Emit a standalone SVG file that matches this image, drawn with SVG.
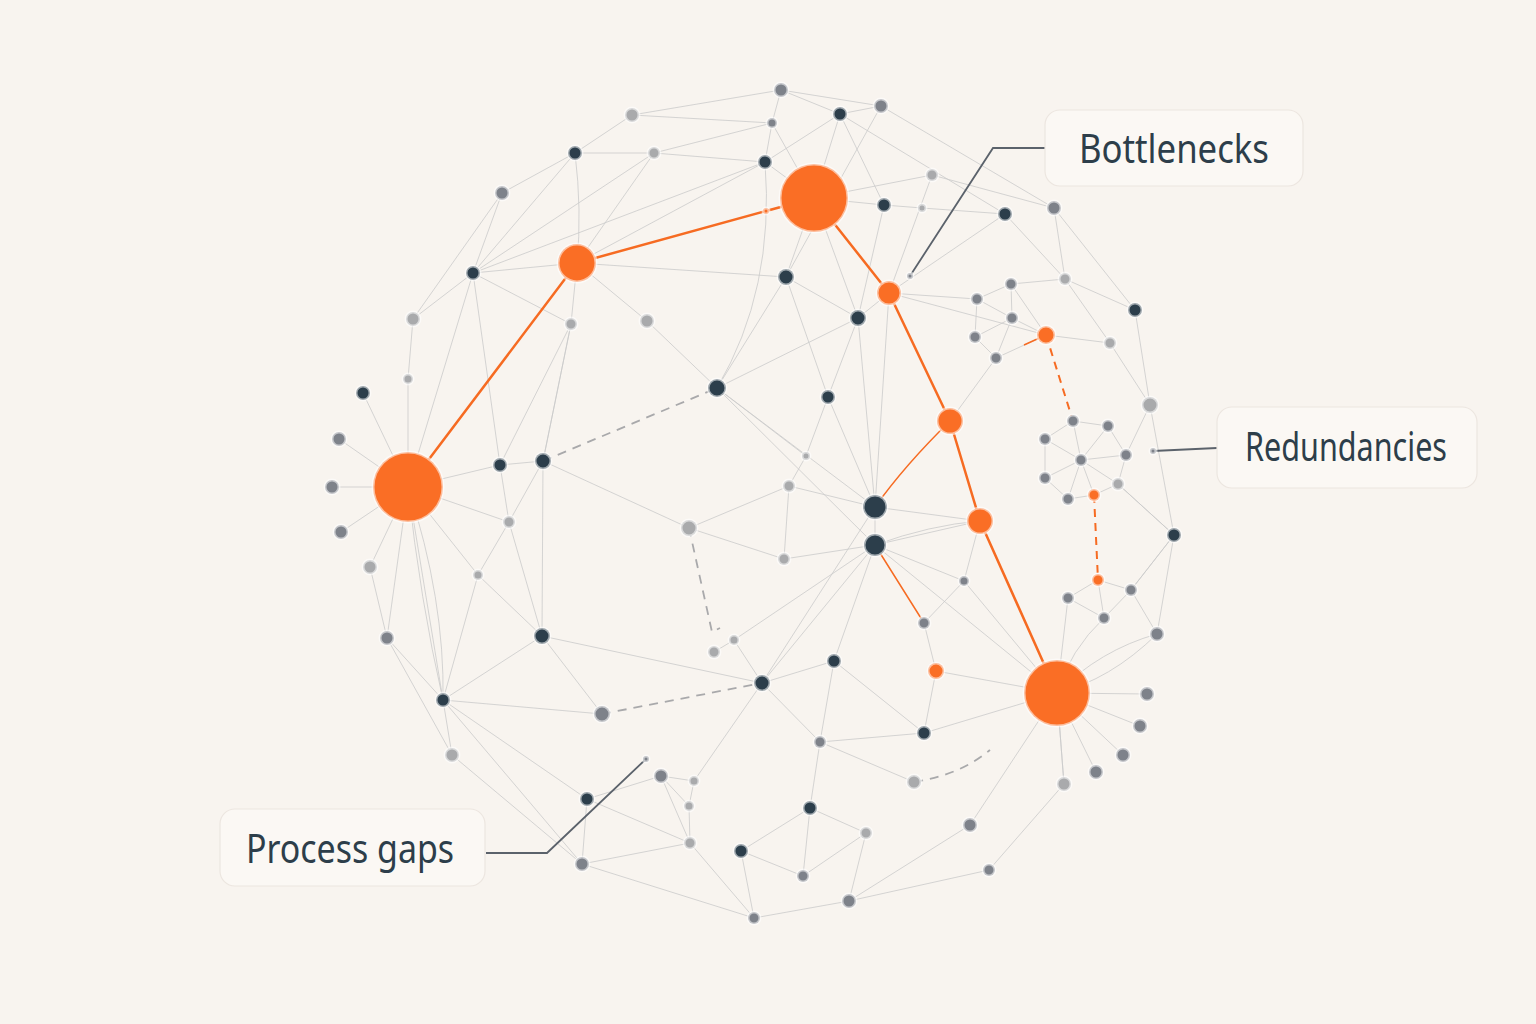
<svg xmlns="http://www.w3.org/2000/svg" width="1536" height="1024" viewBox="0 0 1536 1024">
<style>
.e{stroke:#cbcbcb;stroke-width:1;fill:none;opacity:0.8}
.o{stroke:#f66b22;stroke-width:2.5;fill:none;stroke-linecap:round}
.ot{stroke:#f66b22;stroke-width:1.5;fill:none}
.od{stroke:#f66b22;stroke-width:2;fill:none;stroke-dasharray:8 6}
.gd{stroke:#a9a9ab;stroke-width:1.8;fill:none;stroke-dasharray:9 7}
.p{stroke:#5b626b;stroke-width:1.8;fill:none}
.or{fill:#fa6e25}
.dk{fill:#2c3e4b}
.md{fill:#7e828a}
.lt{fill:#a9aaac}
.n circle{stroke:#ffffff;stroke-opacity:0.55;stroke-width:3}
.box{fill:#fbf8f4;stroke:#ece6e0;stroke-width:1.2}
.lbl{font-family:"Noto Sans","Open Sans",sans-serif;font-size:40px;fill:#2d3e4a}
</style>
<rect width="1536" height="1024" fill="#f8f4ef"/>
<g id="connectors">
<path class="e" d="M781 90L632 115M781 90L881 106M781 90L772 123M781 90L840 114M632 115L575 153M632 115L772 123M654 153L575 153M654 153L772 123M654 153L765 162M654 153L473 273M654 153L577 263M575 153L502 193M575 153Q582 210 577 263M575 153L473 273M502 193L473 273M502 193L413 319M473 273L577 263M473 273L413 319M473 273L571 324M473 273L500 465M473 273L765 162M473 273L408 487M413 319L408 379M408 379L408 487M577 263L786 277M577 263L647 321M647 321L717 388M577 263L571 324M577 263L765 162M571 324L500 465M571 324L543 461M765 162L840 114M765 162L814 198M772 123L765 162M772 123L814 198M765 162Q775 290 717 388M840 114L881 106M840 114L814 198M840 114L884 205M840 114L1005 214M881 106L1054 208M881 106L786 277M814 198L884 205M814 198L932 175M884 205L922 208M922 208L1005 214M932 175L889 293M932 175L1054 208M884 205L858 318M814 198L786 277M814 198L858 318M786 277L858 318M786 277L717 388M786 277L828 397M858 318L717 388M858 318L828 397M858 318L889 293M889 293L977 299M1005 214L889 293M1005 214L1065 279M1054 208L1065 279M1054 208L1135 310M1011 284L1065 279M1065 279L1110 343M1065 279L1135 310M1046 335L1110 343M1110 343L1150 405M1135 310L1150 405M1150 405L1174 535M1150 405L1126 455M1174 535L1118 484M1174 535L1131 590M1174 535L1157 634"/>
<path class="e" d="M977 299L1011 284M1011 284L1012 318M977 299L975 337M977 299L1012 318M975 337L996 358M975 337L1012 318M1012 318L1046 335M1012 318L996 358M1011 284L1046 335M996 358L950 421M889 293L1046 335M996 358L1046 335"/>
<path class="e" d="M1045 439L1073 421M1073 421L1108 426M1108 426L1126 455M1126 455L1118 484M1118 484L1094 495M1094 495L1068 499M1068 499L1045 478M1045 478L1045 439M1081 460L1073 421M1081 460L1108 426M1081 460L1126 455M1081 460L1118 484M1081 460L1094 495M1081 460L1068 499M1081 460L1045 478M1081 460L1045 439M1118 484L1174 535"/>
<path class="e" d="M1098 580L1068 598M1098 580L1131 590M1098 580L1104 618M1068 598L1104 618M1131 590L1104 618M1131 590L1157 634M1068 598L1057 693M1104 618Q1070 650 1057 693M1157 634Q1100 650 1057 693M1157 634Q1110 680 1057 693M1131 590L1174 535"/>
<path class="e" d="M1057 693L1147 694M1057 693L1140 726M1057 693L1123 755M1057 693L1096 772M1057 693L1064 784M1057 693L964 581M1057 693L936 671M1057 693L924 733M1057 693L970 825M1064 784L989 870M970 825L849 901M989 870L849 901M1057 693L875 545"/>
<path class="e" d="M717 388L875 507M717 388L806 456M717 388L875 545M828 397L806 456M828 397L875 507M858 318L875 507M889 293L875 507M806 456L789 486M789 486L689 528M789 486L784 559M689 528L784 559M543 461L689 528M543 461L500 465M500 465L408 487M543 461L509 522M543 461L542 636M509 522L408 487M509 522L478 575M509 522L542 636M478 575L408 487M478 575L542 636M478 575L443 700M543 461L571 324M500 465L509 522M875 507L875 545M875 507L980 521M875 545L980 521M875 545Q930 525 980 521M875 545L784 559M875 545L762 683M875 545L834 661M875 545L964 581M875 507L789 486M875 545L734 640M734 640L714 652M734 640L762 683M542 636L762 683M542 636L443 700M542 636L602 714M443 700L602 714M443 700Q420 600 408 487M443 700L408 487M443 700Q445 600 408 487M443 700L387 638M443 700L452 755M443 700L587 799M443 700L582 864M387 638L370 567M387 638L452 755M370 567L408 487M339 439L408 487M332 487L408 487M341 532L408 487M363 393L408 487M387 638L408 487M452 755L582 864"/>
<path class="e" d="M762 683L834 661M762 683L820 742M762 683L694 781M834 661L924 733M834 661L820 742M820 742L924 733M820 742L810 808M820 742L914 782M936 671L924 623M936 671L924 733M964 581L980 521M924 623L964 581M810 808L741 851M810 808L866 833M810 808L803 876M741 851L803 876M741 851L754 918M866 833L803 876M866 833L849 901M849 901L754 918M754 918L690 843M754 918L582 864M690 843L582 864M690 843L689 806M690 843L661 776M661 776L694 781M661 776L689 806M661 776L587 799M689 806L694 781M587 799L690 843M587 799L582 864M1064 784L1057 693M762 683L875 507"/>
<path class="o" d="M408 487L577 263M577 263L766 211L814 198M814 198L889 293M889 293L950 421M950 421L980 521M980 521L1057 693"/>
<path class="ot" d="M950 421Q905 465 875 507M875 545L924 623M1046 335L1024 345"/>
<path class="od" d="M1046 335L1073 421M1094 495L1098 580"/>
<path class="gd" d="M543 461L717 388M689 528L712 632L720 628M602 714L762 683M914 782Q960 775 990 750"/>
<path class="p" d="M910 276L993 148L1045 148M1153 451L1217 448M646 759L547 853L486 853"/>
</g>
<g id="nodes" class="n">
<g id="orange-nodes">
<circle class="or" cx="408" cy="487" r="35"/>
<circle class="or" cx="814" cy="198" r="34"/>
<circle class="or" cx="577" cy="263" r="19"/>
<circle class="or" cx="889" cy="293" r="12"/>
<circle class="or" cx="950" cy="421" r="13"/>
<circle class="or" cx="980" cy="521" r="13"/>
<circle class="or" cx="1057" cy="693" r="33"/>
<circle class="or" cx="936" cy="671" r="8"/>
<circle class="or" cx="1046" cy="335" r="9"/>
<circle class="or" cx="1094" cy="495" r="6"/>
<circle class="or" cx="1098" cy="580" r="6"/>
<circle class="or" cx="766" cy="211" r="3"/>
</g>
<g id="dark-nodes">
<circle class="dk" cx="840" cy="114" r="7"/>
<circle class="dk" cx="575" cy="153" r="7"/>
<circle class="dk" cx="765" cy="162" r="7"/>
<circle class="dk" cx="884" cy="205" r="7"/>
<circle class="dk" cx="1005" cy="214" r="7"/>
<circle class="dk" cx="473" cy="273" r="7"/>
<circle class="dk" cx="786" cy="277" r="8"/>
<circle class="dk" cx="858" cy="318" r="8"/>
<circle class="dk" cx="1135" cy="310" r="7"/>
<circle class="dk" cx="717" cy="388" r="9"/>
<circle class="dk" cx="828" cy="397" r="7"/>
<circle class="dk" cx="363" cy="393" r="7"/>
<circle class="dk" cx="500" cy="465" r="7"/>
<circle class="dk" cx="543" cy="461" r="8"/>
<circle class="dk" cx="875" cy="507" r="12"/>
<circle class="dk" cx="875" cy="545" r="11"/>
<circle class="dk" cx="1174" cy="535" r="7"/>
<circle class="dk" cx="542" cy="636" r="8"/>
<circle class="dk" cx="834" cy="661" r="7"/>
<circle class="dk" cx="762" cy="683" r="8"/>
<circle class="dk" cx="443" cy="700" r="7"/>
<circle class="dk" cx="924" cy="733" r="7"/>
<circle class="dk" cx="587" cy="799" r="7"/>
<circle class="dk" cx="810" cy="808" r="7"/>
<circle class="dk" cx="741" cy="851" r="7"/>
</g>
<g id="mid-nodes">
<circle class="md" cx="781" cy="90" r="7"/>
<circle class="md" cx="881" cy="106" r="7"/>
<circle class="md" cx="772" cy="123" r="5"/>
<circle class="md" cx="502" cy="193" r="7"/>
<circle class="md" cx="1054" cy="208" r="7"/>
<circle class="md" cx="1011" cy="284" r="6"/>
<circle class="md" cx="977" cy="299" r="6"/>
<circle class="md" cx="1012" cy="318" r="6"/>
<circle class="md" cx="975" cy="337" r="6"/>
<circle class="md" cx="996" cy="358" r="6"/>
<circle class="md" cx="1073" cy="421" r="6"/>
<circle class="md" cx="1108" cy="426" r="6"/>
<circle class="md" cx="1045" cy="439" r="6"/>
<circle class="md" cx="1081" cy="460" r="6"/>
<circle class="md" cx="1126" cy="455" r="6"/>
<circle class="md" cx="1045" cy="478" r="6"/>
<circle class="md" cx="1068" cy="499" r="6"/>
<circle class="md" cx="339" cy="439" r="7"/>
<circle class="md" cx="332" cy="487" r="7"/>
<circle class="md" cx="341" cy="532" r="7"/>
<circle class="md" cx="387" cy="638" r="7"/>
<circle class="md" cx="1068" cy="598" r="6"/>
<circle class="md" cx="1131" cy="590" r="6"/>
<circle class="md" cx="1104" cy="618" r="6"/>
<circle class="md" cx="1157" cy="634" r="7"/>
<circle class="md" cx="1147" cy="694" r="7"/>
<circle class="md" cx="1140" cy="726" r="7"/>
<circle class="md" cx="1123" cy="755" r="7"/>
<circle class="md" cx="1096" cy="772" r="7"/>
<circle class="md" cx="964" cy="581" r="5"/>
<circle class="md" cx="924" cy="623" r="6"/>
<circle class="md" cx="820" cy="742" r="6"/>
<circle class="md" cx="602" cy="714" r="8"/>
<circle class="md" cx="661" cy="776" r="7"/>
<circle class="md" cx="970" cy="825" r="7"/>
<circle class="md" cx="989" cy="870" r="6"/>
<circle class="md" cx="582" cy="864" r="7"/>
<circle class="md" cx="803" cy="876" r="6"/>
<circle class="md" cx="849" cy="901" r="7"/>
<circle class="md" cx="754" cy="918" r="6"/>
<circle class="md" cx="910" cy="276" r="3"/>
<circle class="md" cx="1153" cy="451" r="3"/>
<circle class="md" cx="646" cy="759" r="3"/>
</g>
<g id="light-nodes">
<circle class="lt" cx="632" cy="115" r="7"/>
<circle class="lt" cx="654" cy="153" r="6"/>
<circle class="lt" cx="922" cy="208" r="4"/>
<circle class="lt" cx="932" cy="175" r="6"/>
<circle class="lt" cx="1065" cy="279" r="6"/>
<circle class="lt" cx="413" cy="319" r="7"/>
<circle class="lt" cx="571" cy="324" r="6"/>
<circle class="lt" cx="647" cy="321" r="7"/>
<circle class="lt" cx="1110" cy="343" r="6"/>
<circle class="lt" cx="408" cy="379" r="5"/>
<circle class="lt" cx="1150" cy="405" r="8"/>
<circle class="lt" cx="806" cy="456" r="4"/>
<circle class="lt" cx="789" cy="486" r="6"/>
<circle class="lt" cx="509" cy="522" r="6"/>
<circle class="lt" cx="689" cy="528" r="8"/>
<circle class="lt" cx="1118" cy="484" r="6"/>
<circle class="lt" cx="784" cy="559" r="6"/>
<circle class="lt" cx="370" cy="567" r="7"/>
<circle class="lt" cx="478" cy="575" r="5"/>
<circle class="lt" cx="734" cy="640" r="5"/>
<circle class="lt" cx="714" cy="652" r="6"/>
<circle class="lt" cx="452" cy="755" r="7"/>
<circle class="lt" cx="694" cy="781" r="5"/>
<circle class="lt" cx="689" cy="806" r="5"/>
<circle class="lt" cx="690" cy="843" r="6"/>
<circle class="lt" cx="866" cy="833" r="6"/>
<circle class="lt" cx="914" cy="782" r="7"/>
<circle class="lt" cx="1064" cy="784" r="7"/>
</g>
</g>
<g id="label-bottlenecks">
<rect class="box" x="1045" y="110" width="258" height="76" rx="15"/>
<text class="lbl" x="1174" y="163" text-anchor="middle" textLength="190" lengthAdjust="spacingAndGlyphs">Bottlenecks</text>
</g>
<g id="label-redundancies">
<rect class="box" x="1217" y="407" width="260" height="81" rx="15"/>
<text class="lbl" x="1346" y="461" text-anchor="middle" textLength="202" lengthAdjust="spacingAndGlyphs">Redundancies</text>
</g>
<g id="label-process-gaps">
<rect class="box" x="220" y="809" width="265" height="77" rx="15"/>
<text class="lbl" x="350" y="863" text-anchor="middle" textLength="208" lengthAdjust="spacingAndGlyphs">Process gaps</text>
</g>
</svg>
